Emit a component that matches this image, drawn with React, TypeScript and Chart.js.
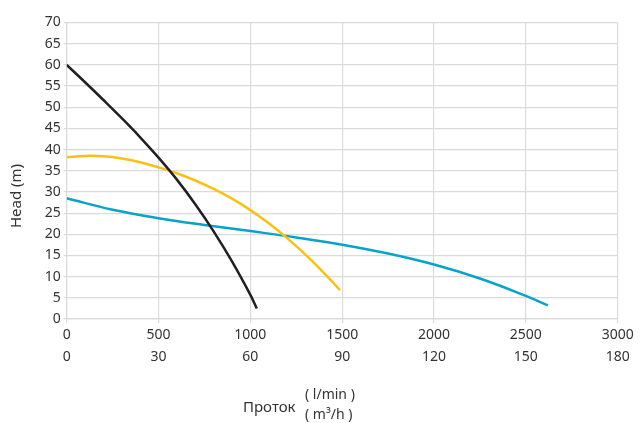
import React, { useEffect, useRef } from "react";
import { Chart, registerables } from "chart.js";

Chart.register(...registerables);

const xLpmTicks = [0, 500, 1000, 1500, 2000, 2500, 3000];
const xM3hTicks = [0, 30, 60, 90, 120, 150, 180];

const blackFlow = [0, 100, 200, 300, 400, 500, 600, 700, 800, 900, 1000, 1035];
const blackHead = [60, 55.9, 51.7, 47.4, 42.9, 38.1, 32.9, 27.1, 20.7, 13.6, 5.7, 2.5];

const yellowFlow = [0, 100, 200, 300, 400, 500, 600, 700, 800, 900, 1000, 1100, 1200, 1300, 1400, 1488];
const yellowHead = [38.2, 38.5, 38.4, 37.9, 37.0, 35.8, 34.4, 32.7, 30.7, 28.4, 25.7, 22.6, 19.1, 15.2, 10.9, 6.8];

const blueFlow = [0, 250, 500, 750, 1000, 1250, 1500, 1750, 2000, 2250, 2500, 2620];
const blueHead = [28.5, 25.8, 23.8, 22.2, 20.75, 19.25, 17.55, 15.45, 12.85, 9.55, 5.45, 3.2];

const yTitle = "Head (m)";
const xTitle = "Проток";
const xUnitTop = "( l/min )";
const xUnitBottom = "( m³/h )";

const FONT = "'Noto Sans', 'DejaVu Sans', sans-serif";
const GRID = "#dadada";
const TEXT = "#333333";

const toPts = (xs: number[], ys: number[]) => xs.map((x, i) => ({ x, y: ys[i] }));

const labelsPlugin = {
  id: "customLabels",
  afterDraw(chart: any) {
    const ctx = chart.ctx;
    ctx.save();
    ctx.fillStyle = TEXT;
    ctx.font = `15px ${FONT}`;
    ctx.textAlign = "center";
    ctx.textBaseline = "middle";
    ctx.save();
    ctx.translate(17, 196);
    ctx.rotate(-Math.PI / 2);
    ctx.fillText(yTitle, 0, 0);
    ctx.restore();

    ctx.textAlign = "left";
    ctx.font = `15px ${FONT}`;
    ctx.fillText(xTitle, 243, 408);
    ctx.font = `14px ${FONT}`;
    ctx.fillText(xUnitTop, 305, 395);
    ctx.fillText(xUnitBottom, 305, 415);
    ctx.restore();
  },
};

export default function App() {
  const ref = useRef<HTMLCanvasElement>(null);
  useEffect(() => {
    if (!ref.current) return;
    const lineStyle = { borderWidth: 2.5, pointRadius: 0, tension: 0.4, fill: false };
    const chart = new Chart(ref.current, {
      type: "line",
      data: {
        datasets: [
          { data: toPts(blackFlow, blackHead), borderColor: "#231f20", ...lineStyle },
          { data: toPts(yellowFlow, yellowHead), borderColor: "#fcbf14", ...lineStyle },
          { data: toPts(blueFlow, blueHead), borderColor: "#08a3c8", ...lineStyle },
        ],
      },
      options: {
        animation: false,
        responsive: false,
        maintainAspectRatio: false,
        layout: { padding: { top: 22.5, right: 24.3, bottom: 0, left: 0 } },
        plugins: { legend: { display: false }, tooltip: { enabled: false } },
        scales: {
          x: {
            type: "linear",
            min: 0,
            max: 3000,
            afterFit: (s: any) => {
              s.height = 104;
            },
            afterBuildTicks: (s: any) => {
              s.ticks = xLpmTicks.map((v) => ({ value: v }));
            },
            ticks: {
              color: TEXT,
              font: { family: FONT, size: 14, lineHeight: 1.55 },
              padding: 1,
              maxRotation: 0,
              callback: (_v: any, i: number) => [String(xLpmTicks[i]), String(xM3hTicks[i])],
            },
            grid: { color: GRID, lineWidth: 1.2, tickLength: 4 },
            border: { color: GRID, width: 1.2 },
          },
          y: {
            type: "linear",
            min: 0,
            max: 70,
            afterFit: (s: any) => {
              s.width = 66.7;
            },
            ticks: {
              stepSize: 5,
              color: TEXT,
              font: { family: FONT, size: 14 },
              padding: 3,
            },
            grid: { color: GRID, lineWidth: 1.2, tickLength: 3 },
            border: { color: GRID, width: 1.2 },
          },
        },
      },
      plugins: [labelsPlugin],
    } as any);
    return () => chart.destroy();
  }, []);
  return (
    <div style={{ position: "fixed", left: 0, top: 0, width: 642, height: 423, background: "#fff" }}>
      <canvas ref={ref} width={642} height={423} style={{ width: 642, height: 423 }} />
    </div>
  );
}
